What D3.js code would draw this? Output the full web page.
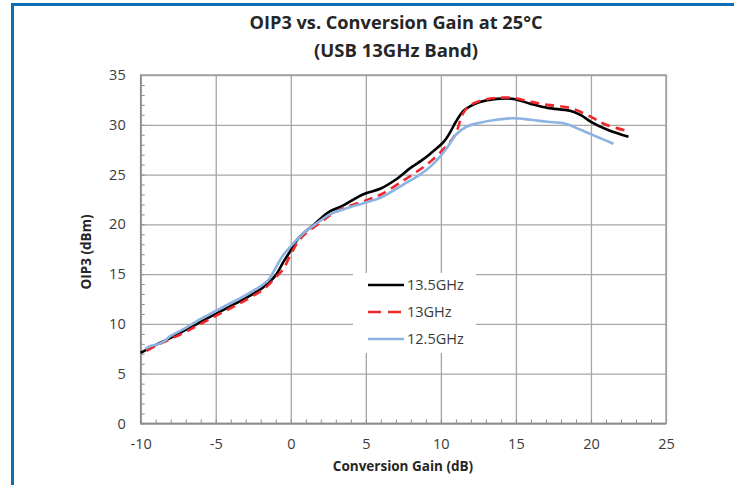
<!DOCTYPE html>
<html lang="en">
<head>
<meta charset="utf-8">
<title>OIP3 vs. Conversion Gain at 25°C</title>
<script src="https://cdn.jsdelivr.net/npm/d3@7/dist/d3.min.js"></script>
<style>
  body { margin: 0; background: #fff; }
  text { font-family: 'Open Sans', sans-serif; fill: #404040; }
  .title { font-weight: bold; font-size: 17px; fill: #262626; }
  .axis_title { font-weight: bold; font-size: 13.5px; fill: #262626; }
  .tick_label text { font-size: 14.5px; fill: #3a3a3a; }
  .legend_text { font-size: 14.5px; fill: #3a3a3a; }
</style>
</head>
<body>
<svg id="canvas" width="734" height="485"></svg>
<script>

// 13.5GHz
var gain_135 = [-10, -9, -8, -7, -6, -5, -4, -3, -2, -1.5, -1, -0.5, 0, 0.5, 1, 1.5, 2, 2.6, 3.5, 4.8, 6, 7, 8, 8.7, 9.3, 10.2, 10.6, 11, 11.5, 12, 12.6, 13.7, 14.8, 16, 17.1, 18.6, 19.3, 20, 21.1, 22.5];
var oip3_135 = [7.1, 7.9, 8.6, 9.4, 10.2, 11.0, 11.8, 12.6, 13.5, 14.1, 14.9, 16.2, 17.4, 18.6, 19.3, 19.9, 20.6, 21.3, 21.9, 23.0, 23.6, 24.5, 25.7, 26.4, 27.1, 28.3, 29.2, 30.3, 31.4, 31.9, 32.3, 32.6, 32.6, 32.1, 31.7, 31.4, 31.0, 30.3, 29.5, 28.8];

// 13GHz
var gain_13 = [-9.6, -9, -8, -7, -6, -5, -4, -3, -2, -1.5, -1, -0.5, 0, 0.5, 1, 2, 2.6, 3.5, 5, 6, 7.5, 8.5, 9.3, 10.2, 10.95, 11.5, 12, 12.6, 13.7, 14.8, 16, 17.1, 18.6, 20, 21, 22.4];
var oip3_13 = [7.3, 7.8, 8.5, 9.2, 10.0, 10.8, 11.6, 12.4, 13.3, 13.9, 14.7, 15.5, 17.0, 18.3, 19.1, 20.2, 20.9, 21.6, 22.4, 23.0, 24.4, 25.4, 26.3, 27.6, 29.0, 31.2, 32.0, 32.4, 32.7, 32.7, 32.3, 32.0, 31.7, 30.8, 30.0, 29.4];

// 12.5GHz
var gain_125 = [-9.7, -9.3, -9, -8.5, -8, -7, -6, -5, -4, -3, -2, -1.5, -1.2, -0.6, 0, 0.5, 1, 2, 2.6, 3.5, 5, 6, 7.5, 8.5, 9.3, 10, 10.5, 11, 11.7, 12.6, 13.7, 14.8, 16, 17.1, 18.2, 19.3, 20.4, 21.5];
var oip3_125 = [7.5, 7.8, 7.9, 8.2, 8.8, 9.6, 10.5, 11.3, 12.1, 12.9, 13.8, 14.4, 15.1, 16.7, 17.8, 18.6, 19.3, 20.4, 21.0, 21.5, 22.2, 22.7, 24.0, 24.9, 25.8, 26.9, 27.9, 29.0, 29.8, 30.2, 30.5, 30.65, 30.5, 30.3, 30.15, 29.5, 28.8, 28.1];

var x_ticks = [-10, -5, 0, 5, 10, 15, 20, 25];
var y_ticks = [0, 5, 10, 15, 20, 25, 30, 35];

var series = [
  { name: '13.5GHz', x: gain_135, y: oip3_135, color: '#000000', dash: null },
  { name: '13GHz', x: gain_13, y: oip3_13, color: '#f0262a', dash: '9,6' },
  { name: '12.5GHz', x: gain_125, y: oip3_125, color: '#8db3e2', dash: null }
];

var svg = d3.select('#canvas');
var plot_left = 140.7, plot_right = 666, plot_top = 75, plot_bottom = 423.5;

var xScale = d3.scaleLinear().domain([-10, 25]).range([plot_left, plot_right]);
var yScale = d3.scaleLinear().domain([0, 35]).range([plot_bottom, plot_top]);

// frame border (blue)
svg.append('line').attr('x1', 11).attr('y1', 4.5).attr('x2', 734).attr('y2', 4.5)
  .style('stroke', '#0e6db3').style('stroke-width', 3);
svg.append('line').attr('x1', 12.5).attr('y1', 3).attr('x2', 12.5).attr('y2', 485)
  .style('stroke', '#0e6db3').style('stroke-width', 3);

// titles
svg.append('text').attr('class', 'title').attr('x', 396).attr('y', 29).attr('text-anchor', 'middle')
  .attr('textLength', 293).attr('lengthAdjust', 'spacingAndGlyphs')
  .text('OIP3 vs. Conversion Gain at 25°C');
svg.append('text').attr('class', 'title').attr('x', 396).attr('y', 57).attr('text-anchor', 'middle')
  .attr('textLength', 164).attr('lengthAdjust', 'spacingAndGlyphs')
  .text('(USB 13GHz Band)');

// grid
var grid_style = function(g){
  g.select('.domain').remove();
  g.selectAll('line').style('stroke', '#a6a6a6').style('stroke-width', 1.3);
};
svg.append('g').attr('transform', 'translate(0,' + plot_bottom + ')')
  .call(d3.axisBottom(xScale).tickValues(x_ticks).tickSize(-(plot_bottom - plot_top)).tickFormat(''))
  .call(grid_style);
svg.append('g').attr('transform', 'translate(' + plot_left + ',0)')
  .call(d3.axisLeft(yScale).tickValues(y_ticks).tickSize(-(plot_right - plot_left)).tickFormat(''))
  .call(grid_style);

// minor ticks
var minor_style = function(g){
  g.select('.domain').remove();
  g.selectAll('line').style('stroke', '#8c8c8c').style('stroke-width', 1);
};
svg.append('g').attr('transform', 'translate(0,' + plot_bottom + ')')
  .call(d3.axisBottom(xScale).tickValues(d3.range(-10, 26, 1)).tickSize(-4).tickFormat(''))
  .call(minor_style);
svg.append('g').attr('transform', 'translate(' + plot_left + ',0)')
  .call(d3.axisLeft(yScale).tickValues(d3.range(0, 36, 1)).tickSize(-4).tickFormat(''))
  .call(minor_style);

// plot box
svg.append('rect').attr('x', plot_left).attr('y', plot_top).attr('width', plot_right - plot_left).attr('height', plot_bottom - plot_top)
  .style('fill', 'none').style('stroke', '#a0a0a0').style('stroke-width', 1.5);
svg.append('line').attr('x1', plot_left).attr('y1', plot_top).attr('x2', plot_left).attr('y2', plot_bottom)
  .style('stroke', '#8c8c8c').style('stroke-width', 1.5);
svg.append('line').attr('x1', plot_left).attr('y1', plot_bottom).attr('x2', plot_right).attr('y2', plot_bottom)
  .style('stroke', '#8c8c8c').style('stroke-width', 1.5);

// tick labels
var label_style = function(g){
  g.attr('class', 'tick_label');
  g.select('.domain').remove();
  g.selectAll('line').remove();
};
svg.append('g').attr('transform', 'translate(0,' + plot_bottom + ')')
  .call(d3.axisBottom(xScale).tickValues(x_ticks).tickSize(0).tickPadding(15).tickFormat(function(d){ return String(d); }))
  .call(label_style);
svg.append('g').attr('transform', 'translate(' + plot_left + ',0)')
  .call(d3.axisLeft(yScale).tickValues(y_ticks).tickSize(0).tickPadding(15).tickFormat(function(d){ return String(d); }))
  .call(label_style);
svg.selectAll('.tick_label').attr('font-family', null).attr('font-size', null);

// axis titles
svg.append('text').attr('class', 'axis_title').attr('x', 403).attr('y', 471).attr('text-anchor', 'middle')
  .text('Conversion Gain (dB)');
svg.append('text').attr('class', 'axis_title').attr('text-anchor', 'middle')
  .attr('transform', 'translate(91,252) rotate(-90)')
  .text('OIP3 (dBm)');

// curves
var line = d3.line()
  .x(function(d){ return xScale(d[0]); })
  .y(function(d){ return yScale(d[1]); })
  .curve(d3.curveCatmullRom.alpha(0.5));

series.forEach(function(s){
  var pts = s.x.map(function(v, i){ return [v, s.y[i]]; });
  svg.append('path').datum(pts).attr('d', line)
    .style('fill', 'none').style('stroke', s.color).style('stroke-width', 2.6)
    .style('stroke-dasharray', s.dash).style('stroke-linejoin', 'round');
});

// legend
var legend = svg.append('g');
legend.append('rect').attr('x', 353).attr('y', 273).attr('width', 123).attr('height', 80).style('fill', '#fff');
series.forEach(function(s, i){
  var y = 285 + i * 27;
  legend.append('line').attr('x1', 368).attr('y1', y).attr('x2', 404).attr('y2', y)
    .style('stroke', s.color).style('stroke-width', 2.6).style('stroke-dasharray', s.dash ? '13,7' : null);
  legend.append('text').attr('class', 'legend_text').attr('x', 407).attr('y', y + 5).text(s.name);
});

</script>
</body>
</html>
